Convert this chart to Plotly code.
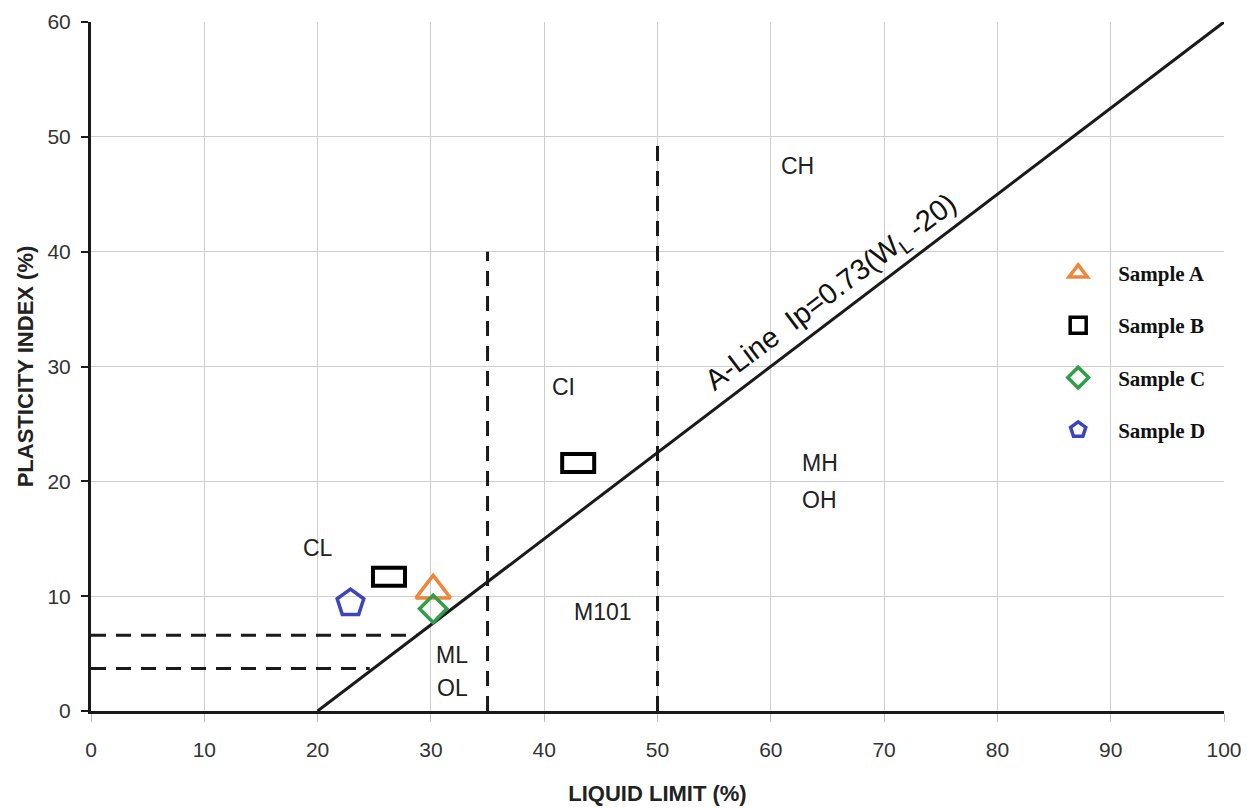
import plotly.graph_objects as go

# ---- data ----
x_ticks = [0, 10, 20, 30, 40, 50, 60, 70, 80, 90, 100]
y_ticks = [0, 10, 20, 30, 40, 50, 60]

sample_a_x = [30.2]
sample_a_y = [10.5]
sample_b_x = [26.3, 43.0]
sample_b_y = [11.7, 21.6]
sample_c_x = [30.2]
sample_c_y = [8.9]
sample_d_x = [22.9]
sample_d_y = [9.4]

aline_x = [20, 100]
aline_y = [0, 60]
ci_split_x = [35, 35]
ci_split_y = [0, 40]
ch_split_x = [50, 50]
ch_split_y = [0, 50]
cl_upper_x = [0, 28.8]
cl_upper_y = [6.6, 6.6]
cl_lower_x = [0, 24.6]
cl_lower_y = [3.7, 3.7]

zone_labels = ["CL", "ML", "OL", "CI", "M101", "MH", "OH", "CH"]
zone_x = [20.0, 31.9, 31.9, 41.7, 45.2, 64.3, 64.3, 62.4]
zone_y = [14.2, 4.9, 2.0, 28.2, 8.6, 21.6, 18.4, 47.5]

aline_label = "A-Line  Ip=0.73(W<sub>L</sub> -20)"
aline_label_x = 65.4
aline_label_y = 36.4

# ---- styles ----
INK = "#1a1a1a"
DASH = "15px,10px"
ORANGE = "#F0863A"
GREEN = "#2E9E48"
BLUE = "#3C45BC"
SANS = "Liberation Sans, Arial"

fig = go.Figure()

# A-line and boundary lines
fig.add_trace(go.Scatter(x=aline_x, y=aline_y, mode="lines",
                         line=dict(color=INK, width=3), showlegend=False, hoverinfo="skip"))
for xs, ys in [(ci_split_x, ci_split_y), (ch_split_x, ch_split_y),
               (cl_upper_x, cl_upper_y), (cl_lower_x, cl_lower_y)]:
    fig.add_trace(go.Scatter(x=xs, y=ys, mode="lines",
                             line=dict(color=INK, width=3, dash=DASH),
                             showlegend=False, hoverinfo="skip"))

# Samples
fig.add_trace(go.Scatter(x=sample_a_x, y=sample_a_y, mode="markers", name="<b>Sample A</b>",
                         legendgroup="a",
                         marker=dict(symbol="triangle-up-open", size=30, color=ORANGE,
                                     line=dict(color=ORANGE, width=3.5))))
# Sample B drawn as rectangles (shapes anchored at data values); legend entry only here
fig.add_trace(go.Scatter(x=[None], y=[None], mode="markers", name="<b>Sample B</b>",
                         legendgroup="b",
                         marker=dict(symbol="square-open", size=22, color="black",
                                     line=dict(color="black", width=3.5))))
for bx, by in zip(sample_b_x, sample_b_y):
    fig.add_shape(type="rect", xref="x", yref="y", xsizemode="pixel", ysizemode="pixel",
                  xanchor=bx, yanchor=by, x0=-16, x1=16, y0=-9, y1=9,
                  line=dict(color="black", width=4), fillcolor="rgba(0,0,0,0)")
fig.add_trace(go.Scatter(x=sample_c_x, y=sample_c_y, mode="markers", name="<b>Sample C</b>",
                         legendgroup="c",
                         marker=dict(symbol="diamond-open", size=21, color=GREEN,
                                     line=dict(color=GREEN, width=3.5))))
fig.add_trace(go.Scatter(x=sample_d_x, y=sample_d_y, mode="markers", name="<b>Sample D</b>",
                         legendgroup="d",
                         marker=dict(symbol="pentagon-open", size=28, color=BLUE,
                                     line=dict(color=BLUE, width=3.5))))

# Zone labels
for t, zx, zy in zip(zone_labels, zone_x, zone_y):
    fig.add_annotation(x=zx, y=zy, text=t, showarrow=False,
                       font=dict(family=SANS, size=23, color="#222"))
fig.add_annotation(x=aline_label_x, y=aline_label_y, text=aline_label, showarrow=False,
                   textangle=-37,
                   font=dict(family=SANS, size=29, color="#111"))

axis_font = dict(family=SANS, size=21, color="#333")
title_font = dict(family=SANS, size=22, color="#222")

fig.update_layout(
    width=1247, height=808,
    margin=dict(l=91, r=23, t=22, b=97, autoexpand=False),
    plot_bgcolor="white", paper_bgcolor="white",
    legend=dict(x=0.836, y=0.665, xanchor="left", yanchor="top",
                bgcolor="rgba(255,255,255,0)", tracegroupgap=22, itemwidth=70,
                font=dict(family="Liberation Serif, Times New Roman", size=21, color="#111"),
                itemsizing="trace"),
    xaxis=dict(range=[0, 100], tickvals=x_ticks, showgrid=True, gridcolor="#cfcfcf",
               gridwidth=1, zeroline=False, showline=True, linecolor=INK, linewidth=3,
               ticks="outside", ticklen=8, tickcolor="#bdbdbd", tickwidth=1,
               tickfont=axis_font, ticklabelstandoff=10, automargin=False,
               title=dict(text="<b>LIQUID LIMIT (%)</b>", font=title_font, standoff=26)),
    yaxis=dict(range=[0, 60], tickvals=y_ticks, showgrid=True, gridcolor="#cfcfcf",
               gridwidth=1, zeroline=False, showline=True, linecolor=INK, linewidth=3,
               ticks="outside", ticklen=7, tickcolor=INK, tickwidth=2,
               tickfont=axis_font, ticklabelstandoff=6, automargin=False,
               title=dict(text="<b>PLASTICITY INDEX (%)</b>", font=title_font, standoff=8)),
)

fig.write_html("out.html", config={"displayModeBar": False},
               post_script="document.body.style.margin='0px';document.body.style.overflow='hidden';")
